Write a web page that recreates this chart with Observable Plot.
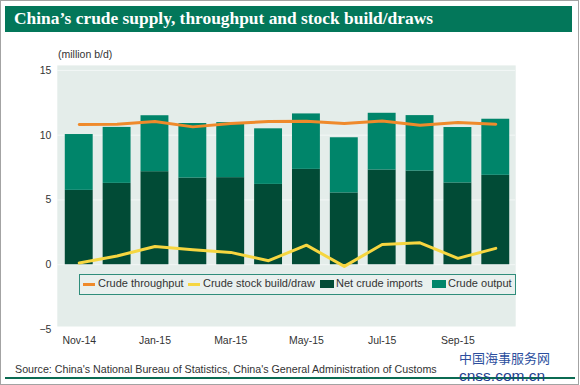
<!DOCTYPE html>
<html>
<head>
<meta charset="utf-8">
<script src="https://cdn.jsdelivr.net/npm/d3@7"></script>
<script src="https://cdn.jsdelivr.net/npm/@observablehq/plot@0.6"></script>
<style>
  html, body { margin: 0; padding: 0; background: #fff; }
  #page { position: relative; width: 579px; height: 385px; box-sizing: border-box; border: 1px solid #a3a3a3; overflow: hidden; font-family: "Liberation Sans", Arial, sans-serif; color: #333; }
  #titlebar { position: absolute; left: 4px; top: 5px; width: 567px; height: 26px; background: #03775a; }
  #title { position: absolute; left: 9px; top: 2px; font-family: "Liberation Serif", serif; font-weight: bold; font-size: 17.4px; color: #fff; white-space: nowrap; }
  #unit { position: absolute; left: 57px; top: 47px; font-size: 10.5px; color: #333; }
  #chart { position: absolute; left: -1px; top: 39px; }
  #legend { position: absolute; left: 78px; top: 273px; width: 437px; height: 21px; box-sizing: border-box; border: 1.5px solid #2f8d7b; background: #e9f0ee; }
  .lg { position: absolute; font-size: 11px; color: #333; white-space: nowrap; top: 276px; }
  .sw { position: absolute; }
  #source { position: absolute; left: 14px; top: 362px; font-size: 10.7px; line-height: 13px; color: #333; white-space: nowrap; }
  #rule { position: absolute; left: 4px; top: 376px; width: 570px; height: 2px; background: #0b6b52; }
  #wm1 { position: absolute; left: 458px; top: 347px; font-family: "Noto Sans CJK SC", sans-serif; font-size: 13px; line-height: normal; color: #2d4f9e; white-space: nowrap; }
  #wm2 { position: absolute; left: 458px; top: 366px; font-family: "Liberation Sans", sans-serif; font-size: 15.5px; line-height: normal; color: #1f3f8f; white-space: nowrap; }
</style>
</head>
<body>
<div id="page">
  <div id="titlebar"><div id="title">China’s crude supply, throughput and stock build/draws</div></div>
  <div id="unit">(million b/d)</div>
  <div id="chart"></div>
  <div id="legend"></div>
  <div id="items"></div>
  <div id="source">Source: China's National Bureau of Statistics, China's General Administration of Customs</div>
  <div id="rule"></div>
  <div id="wm1">中国海事服务网</div>
  <div id="wm2">cnss.com.cn</div>
</div>
<script>
const months = ["Nov-14","Dec-14","Jan-15","Feb-15","Mar-15","Apr-15","May-15","Jun-15","Jul-15","Aug-15","Sep-15","Oct-15"];
const netImports = [5.74, 6.28, 7.18, 6.69, 6.72, 6.20, 7.36, 5.54, 7.31, 7.23, 6.31, 6.90];
const crudeOutput = [4.31, 4.32, 4.32, 4.21, 4.25, 4.29, 4.28, 4.26, 4.38, 4.28, 4.28, 4.33];
const throughput = [10.82, 10.84, 11.05, 10.64, 10.90, 11.05, 11.08, 10.90, 11.10, 10.77, 10.97, 10.85];
const stockBuild = [0.13, 0.67, 1.41, 1.15, 0.95, 0.31, 1.51, -0.13, 1.56, 1.69, 0.49, 1.26];
const tickMonths = ["Nov-14","Jan-15","Mar-15","May-15","Jul-15","Sep-15"];
const yTicks = [-5, 0, 5, 10, 15];
const seriesNames = ["Crude throughput", "Crude stock build/draw", "Net crude imports", "Crude output"];
const seriesColors = ["#ef8a2b", "#f6d640", "#014b36", "#00856a"];

const bars = months.flatMap((m, i) => [
  {month: m, series: seriesNames[2], value: netImports[i]},
  {month: m, series: seriesNames[3], value: crudeOutput[i]}
]);
const thr = months.map((m, i) => ({month: m, value: throughput[i]}));
const stk = months.map((m, i) => ({month: m, value: stockBuild[i]}));

const chart = Plot.plot({
  width: 580,
  height: 310,
  marginLeft: 57,
  marginRight: 63,
  marginTop: 25,
  marginBottom: 23,
  style: {fontFamily: "'Liberation Sans', Arial, sans-serif", fontSize: "10.5px", color: "#333", background: "transparent", overflow: "visible"},
  x: {domain: months, range: [54, 521], padding: 0.265, ticks: tickMonths, tickSize: 0, tickPadding: 10, label: null},
  y: {domain: [-5, 15], range: [290, 30], ticks: yTicks, tickSize: 0, tickPadding: 6, label: null},
  color: {domain: seriesNames.slice(2), range: seriesColors.slice(2)},
  marks: [
    Plot.frame({fill: "#e4edea", stroke: null}),
    Plot.ruleY(yTicks.filter(d => d >= 0), {stroke: "#f3f7f6", strokeWidth: 1}),
    Plot.barY(bars, {x: "month", y: "value", fill: "series"}),
    Plot.line(thr, {x: "month", y: "value", stroke: seriesColors[0], strokeWidth: 3}),
    Plot.line(stk, {x: "month", y: "value", stroke: seriesColors[1], strokeWidth: 3})
  ]
});
document.getElementById("chart").appendChild(chart);

// legend items
const items = document.getElementById("items");
const lgLeft = [82, 187, 319, 431];
seriesNames.forEach((name, i) => {
  const sw = document.createElement("div");
  sw.className = "sw";
  const isLine = i < 2;
  sw.style.left = lgLeft[i] + "px";
  sw.style.width = (isLine ? 12 : 14) + "px";
  sw.style.height = (isLine ? 3 : 8) + "px";
  sw.style.top = (isLine ? 282 : 279) + "px";
  sw.style.background = seriesColors[i];
  items.appendChild(sw);
  const t = document.createElement("div");
  t.className = "lg";
  t.style.left = (lgLeft[i] + (isLine ? 15 : 16)) + "px";
  t.textContent = name;
  items.appendChild(t);
});
</script>
</body>
</html>
